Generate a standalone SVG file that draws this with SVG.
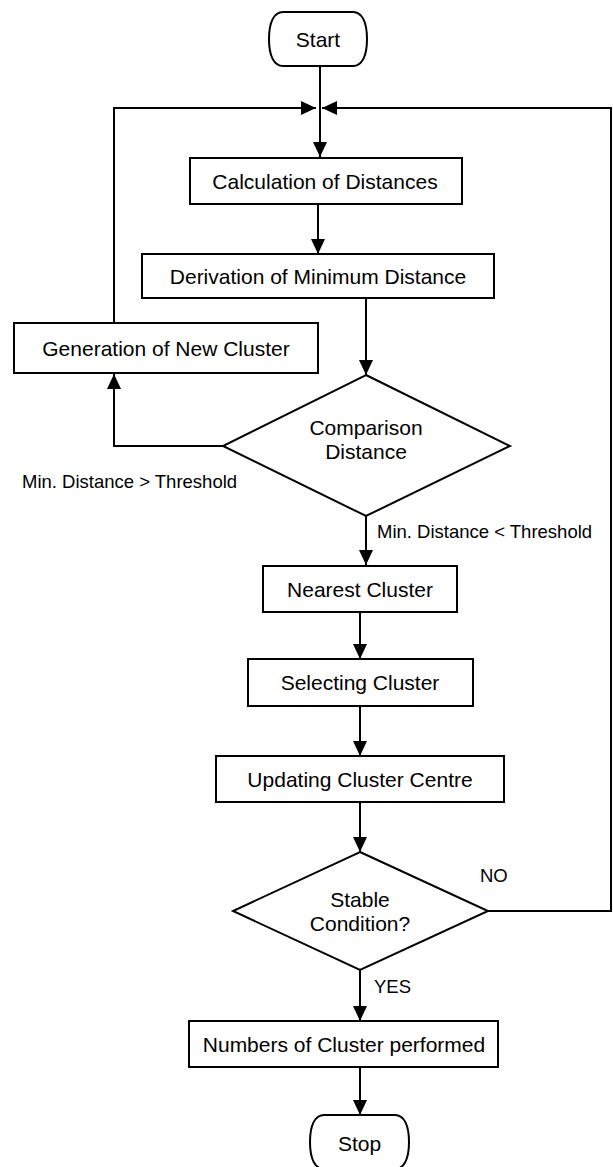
<svg xmlns="http://www.w3.org/2000/svg" width="613" height="1167" viewBox="0 0 613 1167">
<style>
.shape{fill:#fff;stroke:#000;stroke-width:2}
.t{font-family:"Liberation Sans",Arial,sans-serif;font-size:21px;fill:#000;text-anchor:middle}
.lbl{font-family:"Liberation Sans",Arial,sans-serif;font-size:18.5px;fill:#000}
.c{fill:none;stroke:#000;stroke-width:2}
</style>
<defs>
<marker id="ah" viewBox="0 0 15 14" refX="15" refY="7" markerWidth="15" markerHeight="14" markerUnits="userSpaceOnUse" orient="auto">
<path d="M0,0 L15,7 L0,14 Z" fill="#000"/>
</marker>
</defs>
<rect width="613" height="1167" fill="#fff"/>
<g id="connectors">
<path class="c" d="M320,66 V157" marker-end="url(#ah)"/>
<path class="c" d="M114,323 V108 H316" marker-end="url(#ah)"/>
<path class="c" d="M488,911 H611 V108 H322" marker-end="url(#ah)"/>
<path class="c" d="M318,204 V254" marker-end="url(#ah)"/>
<path class="c" d="M366,298 V375" marker-end="url(#ah)"/>
<path class="c" d="M223,446 H114 V374" marker-end="url(#ah)"/>
<path class="c" d="M366,516 V565" marker-end="url(#ah)"/>
<path class="c" d="M360,612 V659" marker-end="url(#ah)"/>
<path class="c" d="M360,706 V756" marker-end="url(#ah)"/>
<path class="c" d="M360,802 V852" marker-end="url(#ah)"/>
<path class="c" d="M360,970 V1021" marker-end="url(#ah)"/>
<path class="c" d="M360,1067 V1115" marker-end="url(#ah)"/>
<text class="lbl" x="22" y="488">Min. Distance &gt; Threshold</text>
<text class="lbl" x="377" y="537.5">Min. Distance &lt; Threshold</text>
<text class="lbl" x="480" y="882">NO</text>
<text class="lbl" x="374" y="993">YES</text>
</g>
<g id="start">
<path class="shape" d="M283,12 H353 C362,12 367,22 367,39 C367,56 362,66 353,66 H283 C274,66 269,56 269,39 C269,22 274,12 283,12 Z"/>
<text class="t" x="318" y="46.5">Start</text>
</g>
<g id="calc">
<rect class="shape" x="190" y="158" width="272" height="46"/>
<text class="t" x="325" y="188.5">Calculation of Distances</text>
</g>
<g id="deriv">
<rect class="shape" x="142" y="254" width="352" height="44"/>
<text class="t" x="318" y="283.5">Derivation of Minimum Distance</text>
</g>
<g id="gen">
<rect class="shape" x="14" y="323" width="304" height="50"/>
<text class="t" x="166" y="355.5">Generation of New Cluster</text>
</g>
<g id="compare">
<path class="shape" d="M366,375 L510,446 L366,516 L223,446 Z"/>
<text class="t" x="366" y="435">Comparison</text>
<text class="t" x="366" y="459">Distance</text>
</g>
<g id="nearest">
<rect class="shape" x="263" y="566" width="194" height="46"/>
<text class="t" x="360" y="596.5">Nearest Cluster</text>
</g>
<g id="selecting">
<rect class="shape" x="248" y="659" width="225" height="47"/>
<text class="t" x="360" y="690">Selecting Cluster</text>
</g>
<g id="updating">
<rect class="shape" x="216" y="756" width="288" height="46"/>
<text class="t" x="360" y="786.5">Updating Cluster Centre</text>
</g>
<g id="stable">
<path class="shape" d="M360,852 L488,911 L360,970 L233,911 Z"/>
<text class="t" x="360" y="907">Stable</text>
<text class="t" x="360" y="931">Condition?</text>
</g>
<g id="numbers">
<rect class="shape" x="189" y="1021" width="309" height="46"/>
<text class="t" x="344" y="1051.5">Numbers of Cluster performed</text>
</g>
<g id="stop">
<path class="shape" d="M324,1115 H395 C404,1115 409,1125 409,1142 C409,1159 404,1169 395,1169 H324 C315,1169 310,1159 310,1142 C310,1125 315,1115 324,1115 Z"/>
<text class="t" x="359.5" y="1150.5">Stop</text>
</g>
</svg>
